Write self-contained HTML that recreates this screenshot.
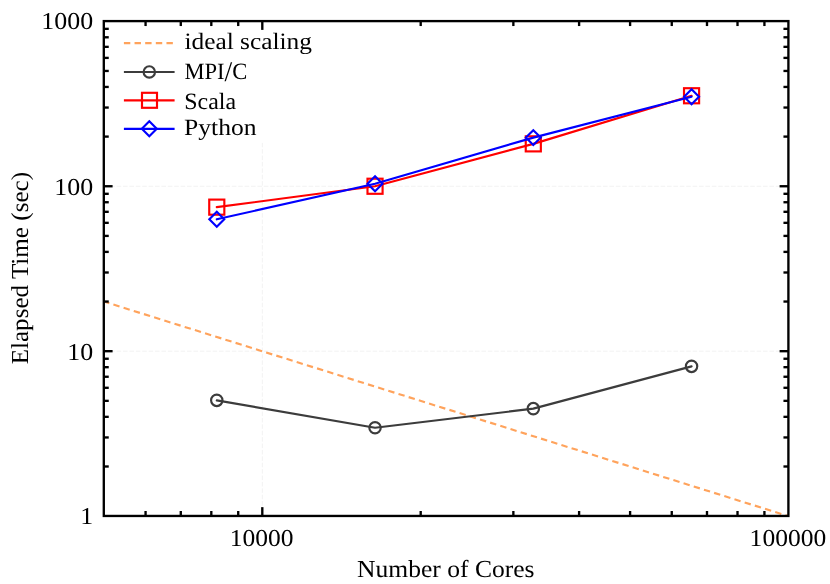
<!DOCTYPE html>
<html><head><meta charset="utf-8"><title>Scaling</title>
<style>
html,body{margin:0;padding:0;background:#fff;}
body{width:830px;height:584px;overflow:hidden;font-family:"Liberation Serif",serif;}
svg{display:block;will-change:transform;}
text{font-family:"Liberation Serif",serif;font-size:24px;fill:#000;text-rendering:geometricPrecision;}
</style></head><body>
<svg width="830" height="584" viewBox="0 0 830 584">
<rect x="0" y="0" width="830" height="584" fill="#fff"/>
<defs><clipPath id="pc"><rect x="103.8" y="21.1" width="684.6" height="494.85"/></clipPath></defs>

<g stroke="#000" stroke-opacity="0.055" stroke-width="1" stroke-dasharray="4.6 1.8" fill="none">
<line x1="103.8" x2="788.4" y1="351.20" y2="351.20"/>
<line x1="103.8" x2="788.4" y1="186.25" y2="186.25"/>
<line x1="262.30" x2="262.30" y1="21.1" y2="515.95"/>
</g>
<g clip-path="url(#pc)" fill="none" stroke-width="2.15" stroke-linejoin="round" stroke-linecap="round">
<line x1="103.8" y1="301.55" x2="788.4" y2="516.15" stroke="#ffa35c" stroke-dasharray="6.4 4.27" stroke-dashoffset="0.6" stroke-linecap="butt"/>
<polyline points="216.78,400.35 375.04,427.75 533.30,408.65 691.56,366.35" stroke="#3c3c3c"/>
<circle cx="216.78" cy="400.35" r="5.7" stroke="#3c3c3c"/>
<circle cx="375.04" cy="427.75" r="5.7" stroke="#3c3c3c"/>
<circle cx="533.30" cy="408.65" r="5.7" stroke="#3c3c3c"/>
<circle cx="691.56" cy="366.35" r="5.7" stroke="#3c3c3c"/>
<polyline points="216.78,207.15 375.04,186.25 533.30,143.85 691.56,95.75" stroke="#ff0000"/>
<rect x="209.23" y="199.60" width="15.1" height="15.1" stroke="#ff0000" stroke-linejoin="miter"/>
<rect x="367.49" y="178.70" width="15.1" height="15.1" stroke="#ff0000" stroke-linejoin="miter"/>
<rect x="525.75" y="136.30" width="15.1" height="15.1" stroke="#ff0000" stroke-linejoin="miter"/>
<rect x="684.01" y="88.20" width="15.1" height="15.1" stroke="#ff0000" stroke-linejoin="miter"/>
<polyline points="216.78,219.30 375.04,183.70 533.30,137.60 691.56,96.70" stroke="#0000ff"/>
<path d="M216.78 211.85L224.23 219.30L216.78 226.75L209.33 219.30Z" stroke="#0000ff" stroke-linejoin="miter"/>
<path d="M375.04 176.25L382.49 183.70L375.04 191.15L367.59 183.70Z" stroke="#0000ff" stroke-linejoin="miter"/>
<path d="M533.30 130.15L540.75 137.60L533.30 145.05L525.85 137.60Z" stroke="#0000ff" stroke-linejoin="miter"/>
<path d="M691.56 89.25L699.01 96.70L691.56 104.15L684.11 96.70Z" stroke="#0000ff" stroke-linejoin="miter"/>
</g>
<rect x="110" y="27" width="215" height="115.5" fill="#fff"/>
<g fill="none" stroke-width="2.15">
<line x1="123.9" x2="174.6" y1="43.1" y2="43.1" stroke="#ffa35c" stroke-dasharray="6.4 4.24"/>
<line x1="123.9" x2="174.6" y1="71.95" y2="71.95" stroke="#3c3c3c"/>
<circle cx="149.3" cy="71.95" r="5.7" stroke="#3c3c3c"/>
<line x1="123.9" x2="174.6" y1="100.3" y2="100.3" stroke="#ff0000"/>
<rect x="142.0" y="92.8" width="15.0" height="15.0" stroke="#ff0000"/>
<line x1="123.9" x2="174.6" y1="128.8" y2="128.8" stroke="#0000ff"/>
<path d="M149.30 121.35L156.75 128.80L149.30 136.25L141.85 128.80Z" stroke="#0000ff" stroke-linejoin="miter"/>
</g>
<text id="l0" style="font-size:23.5px" transform="translate(184.40,48.90) scale(1.0805,1)" text-anchor="start">ideal scaling</text>
<text id="l1" style="font-size:23.3px" transform="translate(184.47,78.70) scale(0.9689,1)" text-anchor="start">MPI<tspan font-size="28.5" dy="2.4">/</tspan><tspan dy="-2.4">C</tspan></text>
<text id="l2" style="font-size:23.3px" transform="translate(184.20,108.65) scale(1.0276,1)" text-anchor="start">Scala</text>
<text id="l3" style="font-size:23.3px" transform="translate(184.10,135.20) scale(1.0974,1)" text-anchor="start">Python</text>
<g stroke="#000" stroke-width="2.35" fill="none" stroke-linecap="butt">
<rect x="103.8" y="21.1" width="684.6" height="494.85"/>
<line x1="103.8" x2="108.75" y1="466.50" y2="466.50"/>
<line x1="788.4" x2="783.4499999999999" y1="466.50" y2="466.50"/>
<line x1="103.8" x2="108.75" y1="437.45" y2="437.45"/>
<line x1="788.4" x2="783.4499999999999" y1="437.45" y2="437.45"/>
<line x1="103.8" x2="108.75" y1="416.84" y2="416.84"/>
<line x1="788.4" x2="783.4499999999999" y1="416.84" y2="416.84"/>
<line x1="103.8" x2="108.75" y1="400.85" y2="400.85"/>
<line x1="788.4" x2="783.4499999999999" y1="400.85" y2="400.85"/>
<line x1="103.8" x2="108.75" y1="387.79" y2="387.79"/>
<line x1="788.4" x2="783.4499999999999" y1="387.79" y2="387.79"/>
<line x1="103.8" x2="108.75" y1="376.75" y2="376.75"/>
<line x1="788.4" x2="783.4499999999999" y1="376.75" y2="376.75"/>
<line x1="103.8" x2="108.75" y1="367.19" y2="367.19"/>
<line x1="788.4" x2="783.4499999999999" y1="367.19" y2="367.19"/>
<line x1="103.8" x2="108.75" y1="358.75" y2="358.75"/>
<line x1="788.4" x2="783.4499999999999" y1="358.75" y2="358.75"/>
<line x1="103.8" x2="112.6" y1="351.20" y2="351.20"/>
<line x1="788.4" x2="779.6" y1="351.20" y2="351.20"/>
<line x1="103.8" x2="108.75" y1="301.55" y2="301.55"/>
<line x1="788.4" x2="783.4499999999999" y1="301.55" y2="301.55"/>
<line x1="103.8" x2="108.75" y1="272.50" y2="272.50"/>
<line x1="788.4" x2="783.4499999999999" y1="272.50" y2="272.50"/>
<line x1="103.8" x2="108.75" y1="251.89" y2="251.89"/>
<line x1="788.4" x2="783.4499999999999" y1="251.89" y2="251.89"/>
<line x1="103.8" x2="108.75" y1="235.90" y2="235.90"/>
<line x1="788.4" x2="783.4499999999999" y1="235.90" y2="235.90"/>
<line x1="103.8" x2="108.75" y1="222.84" y2="222.84"/>
<line x1="788.4" x2="783.4499999999999" y1="222.84" y2="222.84"/>
<line x1="103.8" x2="108.75" y1="211.80" y2="211.80"/>
<line x1="788.4" x2="783.4499999999999" y1="211.80" y2="211.80"/>
<line x1="103.8" x2="108.75" y1="202.24" y2="202.24"/>
<line x1="788.4" x2="783.4499999999999" y1="202.24" y2="202.24"/>
<line x1="103.8" x2="108.75" y1="193.80" y2="193.80"/>
<line x1="788.4" x2="783.4499999999999" y1="193.80" y2="193.80"/>
<line x1="103.8" x2="112.6" y1="186.25" y2="186.25"/>
<line x1="788.4" x2="779.6" y1="186.25" y2="186.25"/>
<line x1="103.8" x2="108.75" y1="136.60" y2="136.60"/>
<line x1="788.4" x2="783.4499999999999" y1="136.60" y2="136.60"/>
<line x1="103.8" x2="108.75" y1="107.55" y2="107.55"/>
<line x1="788.4" x2="783.4499999999999" y1="107.55" y2="107.55"/>
<line x1="103.8" x2="108.75" y1="86.94" y2="86.94"/>
<line x1="788.4" x2="783.4499999999999" y1="86.94" y2="86.94"/>
<line x1="103.8" x2="108.75" y1="70.95" y2="70.95"/>
<line x1="788.4" x2="783.4499999999999" y1="70.95" y2="70.95"/>
<line x1="103.8" x2="108.75" y1="57.89" y2="57.89"/>
<line x1="788.4" x2="783.4499999999999" y1="57.89" y2="57.89"/>
<line x1="103.8" x2="108.75" y1="46.85" y2="46.85"/>
<line x1="788.4" x2="783.4499999999999" y1="46.85" y2="46.85"/>
<line x1="103.8" x2="108.75" y1="37.29" y2="37.29"/>
<line x1="788.4" x2="783.4499999999999" y1="37.29" y2="37.29"/>
<line x1="103.8" x2="108.75" y1="28.85" y2="28.85"/>
<line x1="788.4" x2="783.4499999999999" y1="28.85" y2="28.85"/>
<line x1="145.57" x2="145.57" y1="515.95" y2="511.00000000000006"/>
<line x1="145.57" x2="145.57" y1="21.1" y2="26.05"/>
<line x1="180.79" x2="180.79" y1="515.95" y2="511.00000000000006"/>
<line x1="180.79" x2="180.79" y1="21.1" y2="26.05"/>
<line x1="211.31" x2="211.31" y1="515.95" y2="511.00000000000006"/>
<line x1="211.31" x2="211.31" y1="21.1" y2="26.05"/>
<line x1="238.22" x2="238.22" y1="515.95" y2="511.00000000000006"/>
<line x1="238.22" x2="238.22" y1="21.1" y2="26.05"/>
<line x1="262.30" x2="262.30" y1="515.95" y2="507.15000000000003"/>
<line x1="262.30" x2="262.30" y1="21.1" y2="29.900000000000002"/>
<line x1="420.70" x2="420.70" y1="515.95" y2="511.00000000000006"/>
<line x1="420.70" x2="420.70" y1="21.1" y2="26.05"/>
<line x1="513.36" x2="513.36" y1="515.95" y2="511.00000000000006"/>
<line x1="513.36" x2="513.36" y1="21.1" y2="26.05"/>
<line x1="579.10" x2="579.10" y1="515.95" y2="511.00000000000006"/>
<line x1="579.10" x2="579.10" y1="21.1" y2="26.05"/>
<line x1="630.10" x2="630.10" y1="515.95" y2="511.00000000000006"/>
<line x1="630.10" x2="630.10" y1="21.1" y2="26.05"/>
<line x1="671.76" x2="671.76" y1="515.95" y2="511.00000000000006"/>
<line x1="671.76" x2="671.76" y1="21.1" y2="26.05"/>
<line x1="706.99" x2="706.99" y1="515.95" y2="511.00000000000006"/>
<line x1="706.99" x2="706.99" y1="21.1" y2="26.05"/>
<line x1="737.51" x2="737.51" y1="515.95" y2="511.00000000000006"/>
<line x1="737.51" x2="737.51" y1="21.1" y2="26.05"/>
<line x1="764.42" x2="764.42" y1="515.95" y2="511.00000000000006"/>
<line x1="764.42" x2="764.42" y1="21.1" y2="26.05"/>
</g>
<text id="y1000" style="font-size:24.3px" transform="translate(93.10,29.40) scale(1.0660,1)" text-anchor="end">1000</text>
<text id="y100" style="font-size:24.3px" transform="translate(93.10,194.65) scale(1.0660,1)" text-anchor="end">100</text>
<text id="y10" style="font-size:24.3px" transform="translate(93.10,359.60) scale(1.0660,1)" text-anchor="end">10</text>
<text id="y1" style="font-size:24.3px" transform="translate(93.15,524.40) scale(1.0660,1)" text-anchor="end">1</text>
<text id="x1" style="font-size:24.3px" transform="translate(261.72,546.20) scale(1.0500,1)" text-anchor="middle">10000</text>
<text id="x2" style="font-size:24.3px" transform="translate(787.88,546.20) scale(1.0500,1)" text-anchor="middle">100000</text>
<text id="xt" style="font-size:24.4px" transform="translate(445.84,577.29) scale(1.0479,1)" text-anchor="middle">Number of Cores</text>
<text id="yt" style="font-size:24.4px" transform="translate(27.50,268.16) rotate(-90) scale(1.0292,1)" text-anchor="middle">Elapsed Time (sec)</text>
</svg></body></html>
